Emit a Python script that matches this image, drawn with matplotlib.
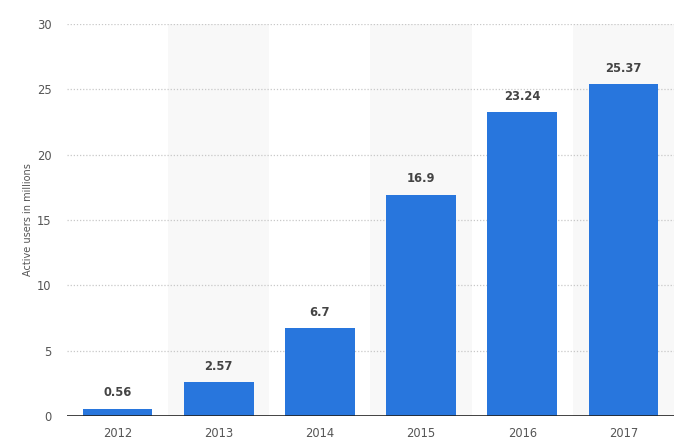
import matplotlib
matplotlib.use("Agg")
import matplotlib.pyplot as plt

years = ["2012", "2013", "2014", "2015", "2016", "2017"]
values = [0.56, 2.57, 6.7, 16.9, 23.24, 25.37]
labels = ["0.56", "2.57", "6.7", "16.9", "23.24", "25.37"]
yticks = [0, 5, 10, 15, 20, 25, 30]

fig = plt.figure(figsize=(6.88, 4.46), dpi=100)
ax = fig.add_axes([67 / 688, 30 / 446, (674 - 67) / 688, (416 - 24) / 446])

x = list(range(len(years)))
for i in x:
    if i % 2 == 1:
        ax.axvspan(i - 0.5, i + 0.5, color="#f8f8f8", zorder=0, lw=0)

for t in yticks[1:]:
    ax.axhline(t, color="#c8c8c8", lw=0.9, ls=(0, (1, 1.5)), zorder=1)

ax.bar(x, values, width=0.69, color="#2876dd", zorder=2)
for xi, v, lab in zip(x, values, labels):
    ax.annotate(lab, (xi, v), xytext=(0, 7), textcoords="offset points",
                ha="center", va="bottom", fontsize=8.3, fontweight="bold", color="#444444")

ax.axhline(0, color="#222222", lw=1.2, zorder=3)
ax.set_xlim(-0.5, len(years) - 0.5)
ax.set_ylim(0, 30)
ax.set_yticks(yticks)
ax.set_xticks(x)
ax.set_xticklabels(years)
ax.tick_params(axis="both", length=0, labelsize=8.3, colors="#555555")
ax.tick_params(axis="y", pad=11)
ax.tick_params(axis="x", pad=8)
for s in ax.spines.values():
    s.set_visible(False)
ax.set_ylabel("Active users in millions", fontsize=7, color="#555555", labelpad=3)

fig.savefig("out.png", dpi=100)
